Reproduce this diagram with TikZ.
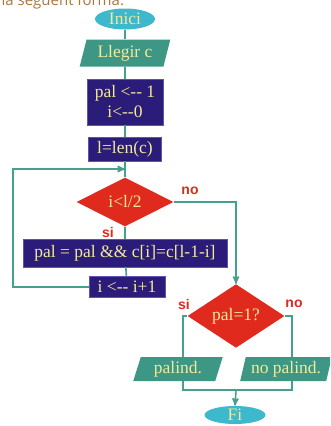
\documentclass[tikz,border=0pt]{standalone}
\usepackage{fontspec}
\setmainfont{Liberation Serif}
\newfontfamily\headfont{Open Sans}
\newfontfamily\labfont{Liberation Sans}
\usepackage{tikz}
\usetikzlibrary{shapes,shapes.geometric,arrows,positioning}

\definecolor{termcol}{HTML}{3DB8CC}
\definecolor{iocol}{HTML}{3E9684}
\definecolor{proccol}{HTML}{2A1C78}
\definecolor{procline}{HTML}{6252B0}
\definecolor{condcol}{HTML}{E02A1E}
\definecolor{txtcol}{HTML}{F2EA98}
\definecolor{linecol}{HTML}{45A08E}
\definecolor{headcol}{HTML}{A8783E}

\begin{document}
\begin{tikzpicture}[x=1pt,y=-1pt,>=stealth',semithick,
                    every node/.style={text=txtcol,font=\fontsize{17.5}{18}\selectfont},
                    term/.style={ellipse,fill=termcol,inner sep=0pt},
                    io/.style={trapezium,trapezium left angle=73,trapezium right angle=107,
                               trapezium stretches=true,
                               fill=iocol,inner sep=0pt,minimum height=25},
                    proc/.style={rectangle,fill=proccol,draw=procline,thin,inner sep=0pt,align=center},
                    cond/.style={diamond,fill=condcol,inner sep=0pt},
                    lab/.style={text=condcol,font=\labfont\bfseries\fontsize{14}{15}\selectfont},
                    conn/.style={linecol,line width=1.6pt}]

  \useasboundingbox (0,0) rectangle (330,426);
  \clip (0,0) rectangle (330,426);

  \node[text=headcol,font=\headfont\fontsize{15}{17}\selectfont,anchor=base west]
       (head) at (-2,5.5) {la següent forma:};

  \node[term,minimum width=60,minimum height=21]   (inici) at (125,19)  {Inici};
  \node[io,minimum width=91,minimum height=27]     (llegir) at (125,53) {Llegir c};
  \node[proc,minimum width=76,minimum height=46]   (init)  at (125,102) {pal <{-}{-} 1\\[2pt]i<{-}{-}0};
  \node[proc,minimum width=73,minimum height=24]   (len)   at (125,149) {l=len(c)};
  \coordinate                                      (join)  at (125,169);
  \node[cond,minimum width=97,minimum height=49]   (cmp)   at (125,202) {i<l/2};
  \node[proc,minimum width=204,minimum height=28]  (body)  at (125,253) {pal = pal \&\& c[i]=c[l-1-i]};
  \node[proc,minimum width=76,minimum height=21]   (incr)  at (127,287) {i <{-}{-} i+1};
  \coordinate                                      (back)  at (13,287);

  \node[cond,minimum width=97,minimum height=53]   (check) at (236,316) {pal=1?};
  \node[io,minimum width=90,minimum height=24]     (yes)   at (178,369) {palind.};
  \node[io,minimum width=92,minimum height=24]     (nope)  at (286,369) {no palind.};
  \coordinate                                      (yesl)  at (183,316);
  \coordinate                                      (nol)   at (292,316);
  \coordinate                                      (merge) at (236,390);
  \node[term,minimum width=61,minimum height=18]   (fi)    at (235,415) {Fi};

  % main column
  \draw[conn] (inici) -- (llegir);
  \draw[conn] (llegir) -- (init);
  \draw[conn] (init) -- (len);
  \draw[conn] (len) -- (cmp);
  \draw[conn] (cmp) -- (body);
  \draw[conn] (body) -- (incr);
  \draw[conn,->] (incr.west) -- (back) |- (join);

  % exit of the loop
  \draw[conn,->] (cmp.east) -| (check.north);
  \draw[conn] (check.west) -- (yesl) -- (yesl |- yes.north);
  \draw[conn] (check.east) -- (nol) -- (nol |- nope.north);
  \draw[conn] (yesl |- yes.south) -- (yesl |- merge) -- (nol |- merge) -- (nol |- nope.south);
  \draw[conn,->] (merge) -- (fi.north);

  % labels
  \node[lab] (lno1)  at (190,191) {no};
  \node[lab] (lsi1)  at (108,232) {si};
  \node[lab] (lsi2)  at (184,304) {si};
  \node[lab] (lno2)  at (294,304) {no};
\end{tikzpicture}
\end{document}
